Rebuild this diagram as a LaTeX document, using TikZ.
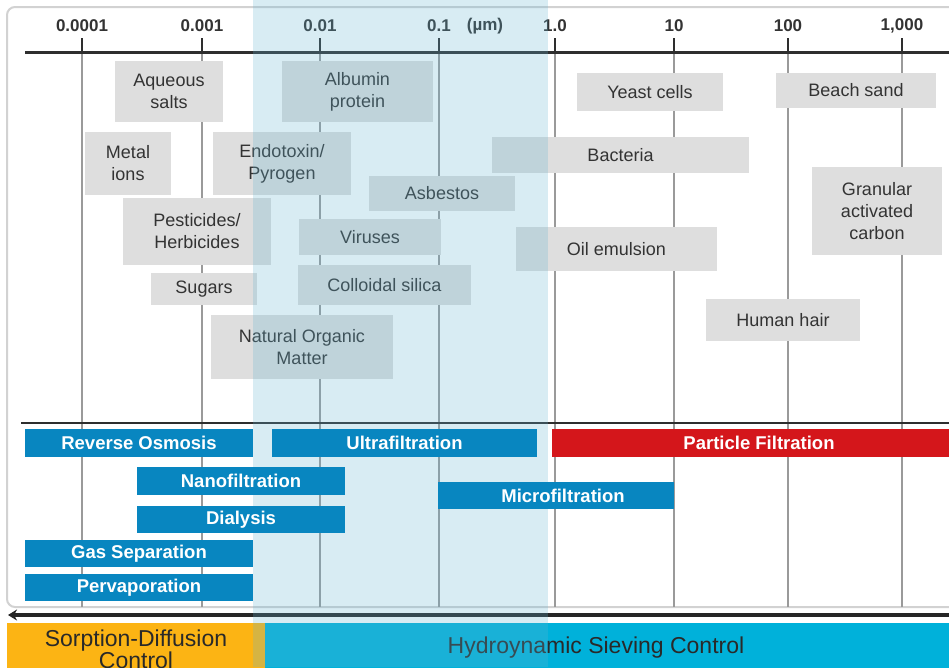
\documentclass[tikz,border=0pt]{standalone}
\usepackage{fontspec}
\setmainfont{Liberation Sans}
\usetikzlibrary{arrows.meta}
\definecolor{boxgray}{HTML}{DEDEDE}
\definecolor{barblue}{HTML}{0886C0}
\definecolor{barred}{HTML}{D4161B}
\definecolor{orng}{HTML}{FCB414}
\definecolor{cyanbar}{HTML}{00B1DA}
\definecolor{ovl}{HTML}{64B4D2}
\definecolor{txt}{HTML}{333333}
\definecolor{vline}{HTML}{9A9A9A}
\definecolor{framec}{HTML}{D2D2D2}
\definecolor{axisc}{HTML}{2E2E2E}
\begin{document}
\begin{tikzpicture}[x=1pt,y=-1pt,
  gbox/.style={fill=boxgray, inner sep=0pt, align=center, text=txt, font=\fontsize{18}{22}\selectfont},
  bbar/.style={fill=barblue, inner sep=0pt, text=white, font=\fontsize{18.5}{22}\selectfont\bfseries},
  rbar/.style={bbar, fill=barred},
  axlab/.style={text=txt, font=\fontsize{17}{20}\selectfont\bfseries, inner sep=0pt},
  gridline/.style={draw=vline, line width=1.8pt},
  tickmark/.style={draw=axisc, line width=2.5pt},
  axisline/.style={draw=axisc, line width=3pt},
  bottomtxt/.style={text=txt!80!black, font=\fontsize{23}{19}\selectfont, align=center, inner sep=0pt}
]
\useasboundingbox (0,0) rectangle (949,667);
\clip (0,0) rectangle (949,667);
\fill[white] (0,0) rectangle (949,667);
% frame
\draw[framec, line width=2pt, rounded corners=8pt] (7,7) rectangle (975,607);
% grid lines and ticks
\foreach \n/\x in {a/82,b/202,c/320,d/439,e/555,f/674,g/788,h/902}{
  \coordinate (top\n) at (\x,38);
  \coordinate (ax\n) at (\x,52);
  \coordinate (bot\n) at (\x,607);
  \draw[gridline] (ax\n) -- (bot\n);
  \draw[tickmark] (top\n) -- (ax\n);
}
\coordinate (axL) at (25,52);
\coordinate (axR) at (949,52);
\draw[axisline] (axL) -- (axR);
\coordinate (divL) at (21,423);
\coordinate (divR) at (949,423);
\draw[draw=axisc, line width=2.5pt] (divL) -- (divR);
% axis labels
\node[axlab] (l1) at (82,26) {0.0001};
\node[axlab] (l2) at (202,26) {0.001};
\node[axlab] (l3) at (320,26) {0.01};
\node[axlab] (l4) at (439,26) {0.1};
\node[axlab] (lu) at (485,26) {(µm)};
\node[axlab] (l5) at (555,26) {1.0};
\node[axlab] (l6) at (674,26) {10};
\node[axlab] (l7) at (788,26) {100};
\node[axlab] (l8) at (902,26) {1,000};
% gray boxes
\node[gbox, minimum width=108pt, minimum height=61pt] (aq) at (169,91.5) {Aqueous\\salts};
\node[gbox, minimum width=151pt, minimum height=61pt] (alb) at (357.5,91.5) {Albumin\\protein};
\node[gbox, minimum width=146pt, minimum height=38pt] (yeast) at (650,92) {Yeast cells};
\node[gbox, minimum width=160pt, minimum height=35pt] (sand) at (856,90.5) {Beach sand};
\node[gbox, minimum width=86pt, minimum height=63pt] (metal) at (128,163.5) {Metal\\ions};
\node[gbox, minimum width=138pt, minimum height=63pt] (endo) at (282,163.5) {Endotoxin/\\Pyrogen};
\node[gbox, minimum width=146pt, minimum height=35pt] (asb) at (442,193.5) {Asbestos};
\node[gbox, minimum width=257pt, minimum height=36pt] (bact) at (620.5,155) {Bacteria};
\node[gbox, minimum width=148pt, minimum height=67pt] (pest) at (197,231.5) {Pesticides/\\Herbicides};
\node[gbox, minimum width=142pt, minimum height=36pt] (vir) at (370,237) {Viruses};
\node[gbox, minimum width=201pt, minimum height=44pt] (oil) at (616.5,249) {Oil emulsion};
\node[gbox, minimum width=130pt, minimum height=88pt] (gac) at (877,211) {Granular\\activated\\carbon};
\node[gbox, minimum width=106pt, minimum height=32pt] (sug) at (204,289) {Sugars};
\node[gbox, minimum width=173pt, minimum height=40pt] (coll) at (384.5,285) {Colloidal silica};
\node[gbox, minimum width=182pt, minimum height=64pt] (nom) at (302,347) {Natural Organic\\Matter};
\node[gbox, minimum width=154pt, minimum height=42pt] (hair) at (783,320) {Human hair};
% bottom arrow
\coordinate (arrR) at (949,615);
\coordinate (arrL) at (8,615);
\draw[draw=black!85, line width=4pt, -{Stealth[length=9pt,width=11pt]}] (arrR) -- (arrL);
% bottom bars
\node[fill=orng, inner sep=0pt, minimum width=258pt, minimum height=60pt] (sdbar) at (136,653) {};
\node[fill=cyanbar, inner sep=0pt, minimum width=700pt, minimum height=60pt] (hsbar) at (615,653) {};
\node[bottomtxt] (sdtxt) at (136,649) {Sorption-Diffusion\\Control};
\node[bottomtxt] (hstxt) at (596,648) {Hydroynamic Sieving Control};
% overlay
\fill[ovl, opacity=0.25] (253,0) rectangle (548,667);
% blue bars
\node[bbar, minimum width=228pt, minimum height=28pt] (ro) at (139,443) {Reverse Osmosis};
\node[bbar, minimum width=265pt, minimum height=28pt] (uf) at (404.5,443) {Ultrafiltration};
\node[rbar, minimum width=408pt, minimum height=28pt] (pf) at (756,443) {\hspace*{6pt}Particle Filtration};
\node[bbar, minimum width=208pt, minimum height=28pt] (nf) at (241,481) {Nanofiltration};
\node[bbar, minimum width=236pt, minimum height=27pt] (mf) at (556,495.5) {\hspace*{14pt}Microfiltration};
\node[bbar, minimum width=208pt, minimum height=27pt] (dia) at (241,519.5) {Dialysis};
\node[bbar, minimum width=228pt, minimum height=27pt] (gas) at (139,553.5) {Gas Separation};
\node[bbar, minimum width=228pt, minimum height=27pt] (perv) at (139,587.5) {Pervaporation};
\end{tikzpicture}
\end{document}
